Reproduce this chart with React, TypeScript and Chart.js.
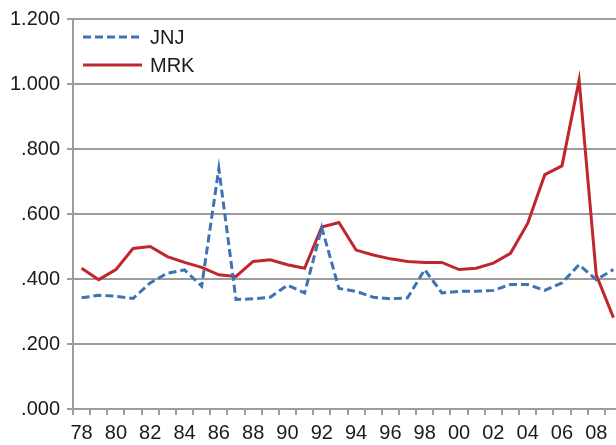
import React, { useEffect, useRef } from 'react';
import { Chart, registerables } from 'chart.js';

Chart.register(...registerables);

const years = ['78', '79', '80', '81', '82', '83', '84', '85', '86', '87', '88', '89', '90', '91', '92', '93', '94', '95', '96', '97', '98', '99', '00', '01', '02', '03', '04', '05', '06', '07', '08', '09'];
const jnj = [0.342, 0.350, 0.347, 0.340, 0.388, 0.418, 0.428, 0.378, 0.740, 0.337, 0.339, 0.344, 0.381, 0.357, 0.558, 0.371, 0.362, 0.344, 0.339, 0.342, 0.429, 0.357, 0.362, 0.362, 0.365, 0.383, 0.383, 0.365, 0.388, 0.444, 0.398, 0.429];
const mrk = [0.433, 0.398, 0.429, 0.494, 0.500, 0.469, 0.451, 0.436, 0.413, 0.408, 0.454, 0.459, 0.444, 0.433, 0.560, 0.574, 0.489, 0.474, 0.462, 0.454, 0.451, 0.451, 0.429, 0.433, 0.449, 0.479, 0.571, 0.721, 0.748, 1.012, 0.413, 0.281];
const seriesNames = ['JNJ', 'MRK'];

const BLUE = '#3d72b4';
const RED = '#c0272d';
const TEXT = '#1a1a1a';
const GRID = '#9c9c9c';
const FONT = '"Liberation Sans", Arial, sans-serif';

const legendPlugin = {
  id: 'insideLegend',
  afterDraw(chart: any) {
    const ctx = chart.ctx;
    const { left, top } = chart.chartArea;
    const items = [
      { label: seriesNames[0], color: BLUE, dash: [8, 4] },
      { label: seriesNames[1], color: RED, dash: [] as number[] },
    ];
    ctx.save();
    items.forEach((it, i) => {
      const y = top + 18 + i * 28;
      ctx.beginPath();
      ctx.setLineDash(it.dash);
      ctx.strokeStyle = it.color;
      ctx.lineWidth = 3;
      ctx.moveTo(left + 10, y);
      ctx.lineTo(left + 69, y);
      ctx.stroke();
      ctx.setLineDash([]);
      ctx.fillStyle = TEXT;
      ctx.font = `20px ${FONT}`;
      ctx.textBaseline = 'middle';
      ctx.textAlign = 'left';
      ctx.fillText(it.label, left + 77, y + 1);
    });
    ctx.restore();
  },
};

export default function App() {
  const ref = useRef<HTMLCanvasElement>(null);
  useEffect(() => {
    if (!ref.current) return;
    const chart = new Chart(ref.current, {
      type: 'line',
      data: {
        labels: years,
        datasets: [
          {
            label: seriesNames[0],
            data: jnj,
            borderColor: BLUE,
            backgroundColor: BLUE,
            borderWidth: 3,
            borderDash: [8, 4],
            pointRadius: 0,
            tension: 0,
          },
          {
            label: seriesNames[1],
            data: mrk,
            borderColor: RED,
            backgroundColor: RED,
            borderWidth: 3,
            pointRadius: 0,
            tension: 0,
          },
        ],
      },
      options: {
        responsive: false,
        animation: false,
        devicePixelRatio: 1,
        layout: { padding: { top: 15, right: 18, left: 0, bottom: 0 } },
        plugins: { legend: { display: false }, tooltip: { enabled: false } },
        scales: {
          x: {
            offset: true,
            grid: {
              offset: true,
              drawOnChartArea: false,
              drawTicks: true,
              tickLength: 6,
              color: GRID,
              lineWidth: 2,
            },
            border: { display: true, color: GRID, width: 2 },
            ticks: {
              autoSkip: false,
              maxRotation: 0,
              padding: 6,
              color: TEXT,
              font: { family: FONT, size: 20 },
              callback: (_v: any, i: number) => (i % 2 === 0 ? years[i] : ''),
            },
            afterFit: (s: any) => { s.height = 36; },
          },
          y: {
            min: 0,
            max: 1.2,
            grid: { color: GRID, lineWidth: 2, tickLength: 6 },
            border: { display: true, color: GRID, width: 2 },
            ticks: {
              stepSize: 0.2,
              padding: 7,
              color: TEXT,
              font: { family: FONT, size: 20 },
              callback: (v: any) => {
                const n = Math.round(Number(v) * 1000) / 1000;
                const s = n.toFixed(3);
                return n >= 1 ? s : s.slice(1);
              },
            },
            afterFit: (s: any) => { s.width = 73; },
          },
        },
      },
      plugins: [legendPlugin],
    });
    return () => chart.destroy();
  }, []);
  return (
    <div style={{ position: 'fixed', left: 0, top: 0, width: 616, height: 445, overflow: 'hidden', background: '#fff' }}>
      <canvas ref={ref} width={640} height={445} style={{ width: 640, height: 445, display: 'block' }} />
    </div>
  );
}
